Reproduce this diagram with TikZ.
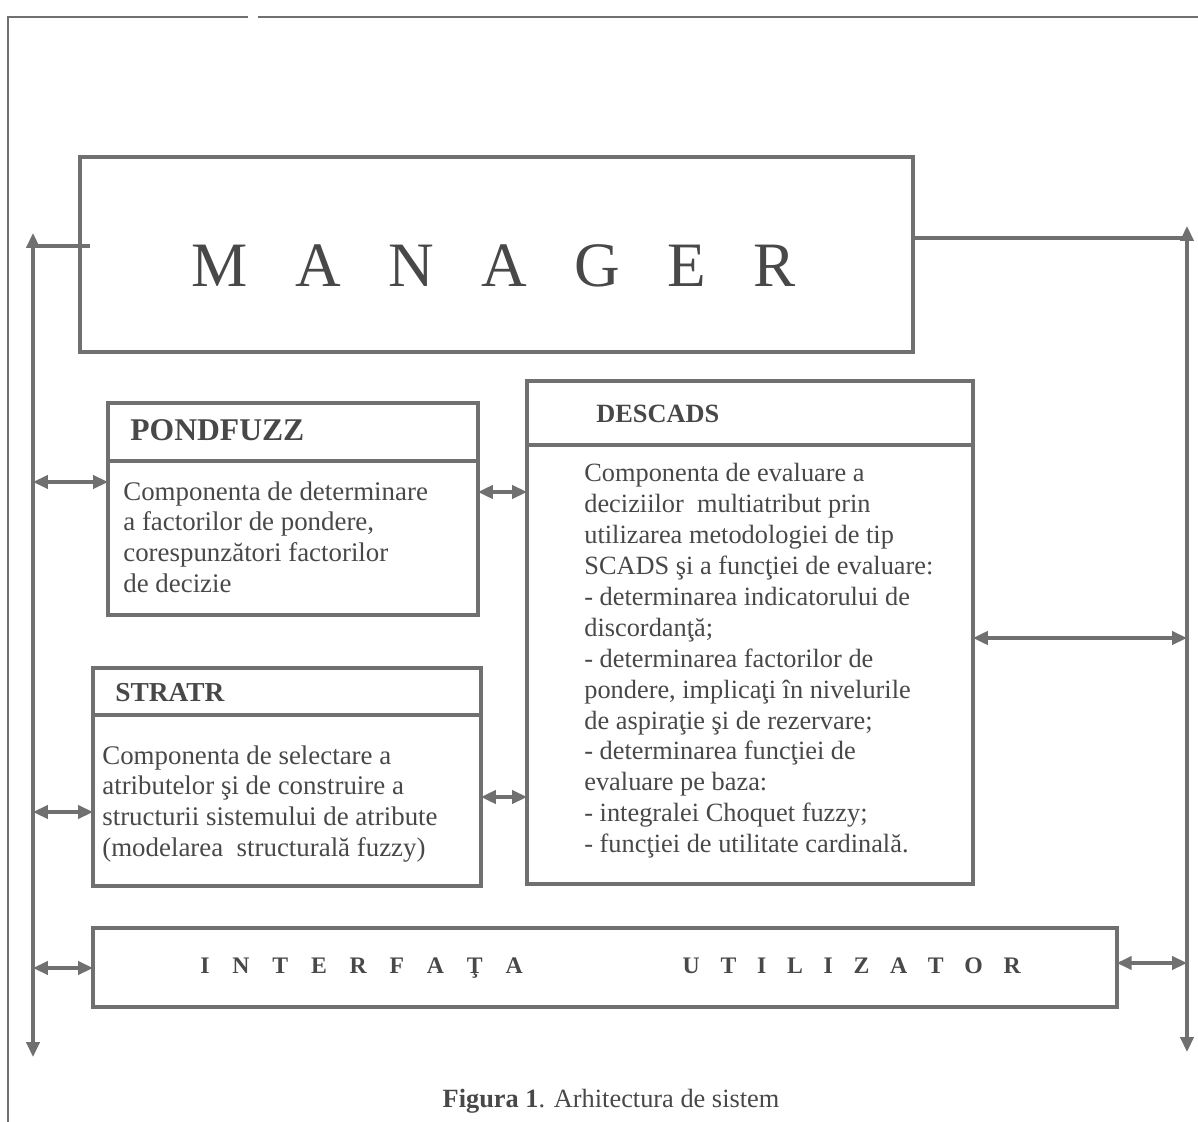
\documentclass[tikz,border=0pt]{standalone}
\usepackage{fontspec}
\setmainfont{Liberation Serif}
\usetikzlibrary{arrows.meta,positioning}
\definecolor{linegray}{RGB}{112,112,112}
\definecolor{inkgray}{RGB}{72,72,72}

\begin{document}
\begin{tikzpicture}[x=0.02cm, y=-0.02cm,
  box/.style={draw=linegray, line width=2.2pt, rectangle, anchor=north west, inner sep=0pt, outer sep=0pt},
  head/.style={anchor=west, inner sep=0pt, text=inkgray, font=\bfseries\fontsize{15}{18}\selectfont},
  body/.style={anchor=north west, inner sep=0pt, align=left, text=inkgray, font=\fontsize{15.3}{17.6}\selectfont},
  link/.style={draw=linegray, line width=2pt},
  both/.style={link, {Triangle[length=8.5pt,width=7.5pt]}-{Triangle[length=8.5pt,width=7.5pt]}}]
  \useasboundingbox (0,0) rectangle (1198,1122);
  % outer frame
  \draw[linegray, line width=0.8pt] (248,17) -- (8,17) -- (8,1122);
  \draw[linegray, line width=0.8pt] (258,17) -- (1198,17);

  % manager
  \node (mgr) [box, line width=2.5pt, minimum width=16.66cm, minimum height=3.9cm] at (80,157) {};
  \node (mgrtxt) [text=inkgray, font=\fontsize{36}{40}\selectfont] at (494,266) {M\hspace{27pt}A\hspace{27pt}N\hspace{27pt}A\hspace{27pt}G\hspace{27pt}E\hspace{27pt}R};

  % pondfuzz
  \node (pond) [box, minimum width=7.4cm, minimum height=4.24cm] at (108,403) {};
  \draw[link, line width=2.2pt] (pond.west |- 0,461) -- (pond.east |- 0,461);
  \node (pondhd) [head, font=\bfseries\fontsize{18}{21}\selectfont] at (130,430) {PONDFUZZ};
  \node (pondtxt) [body] at (123,481) {Componenta de determinare\\a factorilor de pondere,\\corespunzători factorilor\\de decizie};

  % descads
  \node (desc) [box, minimum width=8.92cm, minimum height=10.06cm] at (527,381) {};
  \draw[link, line width=2.2pt] (desc.west |- 0,445) -- (desc.east |- 0,445);
  \node (deschd) [head] at (596,414) {DESCADS};
  \node (desctxt) [body, font=\fontsize{15}{17.6}\selectfont] at (584,463) {Componenta de evaluare a\\deciziilor~ multiatribut prin\\utilizarea metodologiei de tip\\SCADS şi a funcţiei de evaluare:\\- determinarea indicatorului de\\discordanţă;\\- determinarea factorilor de\\pondere, implicaţi în nivelurile\\de aspiraţie şi de rezervare;\\- determinarea funcţiei de\\evaluare pe baza:\\- integralei Choquet fuzzy;\\- funcţiei de utilitate cardinală.};

  % stratr
  \node (strat) [box, minimum width=7.76cm, minimum height=4.36cm] at (93,668) {};
  \draw[link, line width=2.2pt] (strat.west |- 0,715) -- (strat.east |- 0,715);
  \node (strathd) [head, font=\bfseries\fontsize{15.6}{18}\selectfont] at (115,693) {STRATR};
  \node (strattxt) [body] at (102,745) {Componenta de selectare a\\atributelor şi de construire a\\structurii sistemului de atribute\\(modelarea~ structurală fuzzy)};

  % interfata
  \node (intf) [box, minimum width=20.48cm, minimum height=1.58cm] at (93,928) {};
  \node (intftxt) [anchor=west, inner sep=0pt, text=inkgray, font=\bfseries\fontsize{13.5}{16}\selectfont] at (200,968) {I\hspace{13pt}N\hspace{13pt}T\hspace{13pt}E\hspace{13pt}R\hspace{13pt}F\hspace{13pt}A\hspace{13pt}Ţ\hspace{13pt}A\hspace{91pt}U\hspace{11.8pt}T\hspace{11.8pt}I\hspace{11.8pt}L\hspace{11.8pt}I\hspace{11.8pt}Z\hspace{11.8pt}A\hspace{11.8pt}T\hspace{11.8pt}O\hspace{11.8pt}R};

  \node (caption) [anchor=base, text=inkgray, font=\fontsize{15}{18}\selectfont] at (611,1107) {\textbf{Figura 1}. Arhitectura de sistem};

  % buses
  \coordinate (ltop) at (33,233);
  \coordinate (lbot) at (33,1057);
  \coordinate (rtop) at (1187,226);
  \coordinate (rbot) at (1187,1052);
  \draw[both] (ltop) -- (lbot);
  \draw[both] (rtop) -- (rbot);
  \draw[link] (ltop |- 0,246) -- (mgr.west |- 0,246) -- ++(10,0);
  \draw[link] (mgr.east |- 0,238) -- (rtop |- 0,238);

  \draw[both] (ltop |- 0,482) -- (pond.west |- 0,482);
  \draw[both] (pond.east |- 0,492) -- (desc.west |- 0,492);
  \draw[both] (ltop |- 0,812) -- (strat.west |- 0,812);
  \draw[both] (strat.east |- 0,797) -- (desc.west |- 0,797);
  \draw[both] (desc.east |- 0,638) -- (rtop |- 0,638);
  \draw[both] (ltop |- 0,968) -- (intf.west |- 0,968);
  \draw[both] (intf.east |- 0,963) -- (rtop |- 0,963);
\end{tikzpicture}
\end{document}
